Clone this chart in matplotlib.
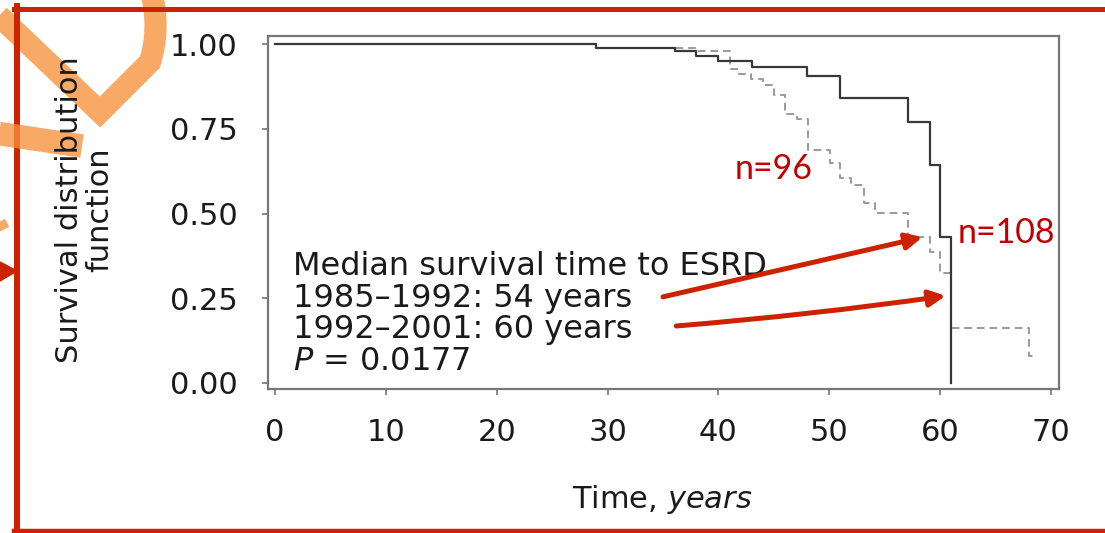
import numpy as np
import matplotlib.pyplot as plt
from matplotlib.lines import Line2D
from matplotlib.patches import Polygon, PathPatch
from matplotlib.path import Path
from matplotlib.transforms import Affine2D

# Kaplan-Meier steps (time in years, survival)
t_1992 = [0, 29.0, 36.1, 38.0, 40.0, 43.0, 48.0, 51.0, 57.1, 59.1, 60.0, 61.0]
s_1992 = [1.0, 0.99, 0.98, 0.965, 0.95, 0.932, 0.906, 0.84, 0.771, 0.643, 0.432, 0.0]

t_1985 = [0, 29.0, 38.0, 41.0, 41.9, 42.9, 44.0, 45.0, 46.0, 47.1, 48.1, 50.1,
          51.0, 52.0, 53.1, 54.1, 57.1, 59.1, 60.0, 61.0, 68.0, 68.4]
s_1985 = [1.0, 0.99, 0.98, 0.928, 0.913, 0.898, 0.88, 0.85, 0.795, 0.78, 0.687, 0.648,
          0.606, 0.584, 0.53, 0.501, 0.43, 0.385, 0.323, 0.161, 0.08, 0.08]

x_ticks = [0, 10, 20, 30, 40, 50, 60, 70]
y_ticks = [0.0, 0.25, 0.5, 0.75, 1.0]
y_ticklabels = ['0.00', '0.25', '0.50', '0.75', '1.00']

legend_lines = ['Median survival time to ESRD',
                '1985\u20131992: 54 years',
                '1992\u20132001: 60 years',
                '$P$ = 0.0177']

W, H = 1105, 533
red = '#cc2200'
dark_red = '#c00000'
orange = '#f7913a'

plt.rcParams['font.family'] = ['DejaVu Sans']
plt.rcParams['mathtext.fontset'] = 'dejavusans'

fig = plt.figure(figsize=(W / 100, H / 100), dpi=100)
fig.patch.set_facecolor('white')

# axes placed from pixel positions of the frame
ax = fig.add_axes([268 / W, 1 - 389 / H, (1059 - 268) / W, (389 - 36) / H])

ax.step(t_1985, s_1985, where='post', color='#9a9a9a', lw=1.4, linestyle=(0, (4, 2.5)))
ax.step(t_1992, s_1992, where='post', color='#383838', lw=1.6)

ax.set_xlim(-0.63, 70.72)
ax.set_ylim(-0.018, 1.024)
ax.set_xticks(x_ticks)
ax.set_yticks(y_ticks)
ax.set_yticklabels(y_ticklabels)
for sp in ax.spines.values():
    sp.set_color('#777777')
    sp.set_linewidth(1.6)
ax.tick_params(axis='both', colors='#777777', labelcolor='#1a1a1a', labelsize=22,
               length=4, width=1.2, direction='out')
ax.tick_params(axis='y', pad=18)
ax.tick_params(axis='x', pad=17)

# text block inside the plot
baselines = [0.323, 0.232, 0.1445, 0.054]
for line, yb in zip(legend_lines, baselines):
    ax.text(0.0316, yb, line, transform=ax.transAxes, fontsize=23, color='#1a1a1a',
            va='baseline', ha='left')

fig.text(85 / W, 1 - 210 / H, 'Survival distribution\nfunction', rotation=90,
         ha='center', va='center', fontsize=22, color='#1a1a1a', linespacing=1.05)
fig.text(662 / W, 1 - 500 / H, 'Time, $\\it{years}$', ha='center', va='center',
         fontsize=22, color='#1a1a1a')

# slide annotations
ax.text(41.5, 0.631, 'n=96', color=dark_red, fontsize=24.5, family=['Lato'],
        ha='left', va='center')
ax.text(61.6, 0.442, 'n=108', color=dark_red, fontsize=24.5, family=['Lato'],
        ha='left', va='center')
ax.annotate('', xy=(58.4, 0.43), xytext=(35.0, 0.254),
            arrowprops=dict(arrowstyle='-|>', color=red, lw=3.6, mutation_scale=24,
                            shrinkA=0, shrinkB=0))
ax.annotate('', xy=(60.5, 0.257), xytext=(36.2, 0.168),
            arrowprops=dict(arrowstyle='-|>', color=red, lw=3.6, mutation_scale=24,
                            shrinkA=0, shrinkB=0, connectionstyle='arc3,rad=0.015'))

# slide decorations in pixel coordinates (origin top-left)
px = Affine2D().scale(1 / W, -1 / H).translate(0, 1) + fig.transFigure

def pline(xs, ys, color, lw, **kw):
    fig.add_artist(Line2D(xs, ys, transform=px, color=color, lw=lw, **kw))

pline([14, W], [8.5, 8.5], red, 3.6)
pline([16.5, 16.5], [6, H], red, 4.3)
pline([14, W], [531, 531], red, 3.2)
fig.add_artist(Polygon([(0, 262), (17, 271), (0, 281)], closed=True, transform=px,
                       color=red))

v_path = Path([(-5, 12), (100, 112), (150, 62), (160, 30), (152, -5)],
              [Path.MOVETO, Path.LINETO, Path.LINETO, Path.CURVE3, Path.CURVE3])
fig.add_artist(PathPatch(v_path, transform=px, fill=False, edgecolor=orange,
                         lw=16, alpha=0.78, joinstyle='miter', capstyle='butt'))
pline([-5, 82], [133, 146], orange, 17, alpha=0.78, solid_capstyle='butt')
pline([-5, 3], [214, 230], orange, 10, alpha=0.78, solid_capstyle='butt')

fig.savefig('out.png', dpi=100, facecolor='white')
